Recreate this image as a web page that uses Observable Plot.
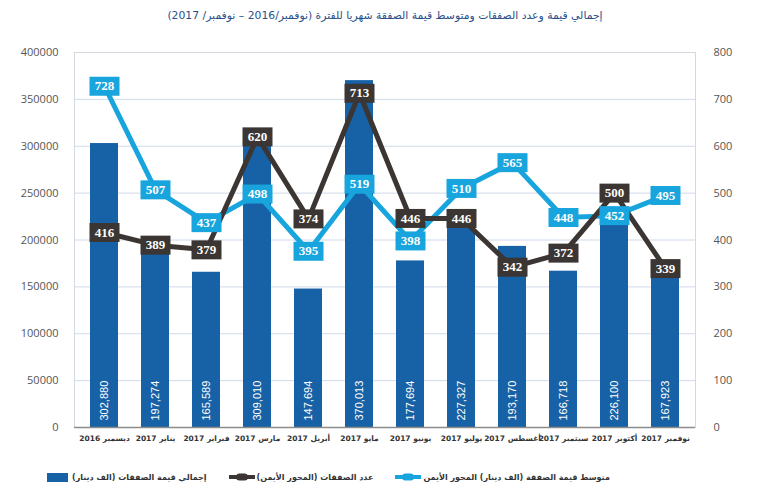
<!DOCTYPE html>
<html>
<head>
<meta charset="utf-8">
<script src="https://cdn.jsdelivr.net/npm/d3@7"></script>
<script src="https://cdn.jsdelivr.net/npm/@observablehq/plot@0.6"></script>
<style>
  html, body { margin: 0; padding: 0; background: #fff; }
  #wrap { width: 770px; height: 499px; position: relative; overflow: hidden; font-family: "DejaVu Sans", sans-serif; }
  #title { height: 30px; line-height: 32px; text-align: center; color: #2a4f88; font-size: 10.8px; }
  #chart { height: 430px; }
  #legend { position: absolute; left: 47px; top: 472px; display: flex; align-items: center; font-size: 8px; font-weight: bold; color: #333; }
  #legend span.t { direction: rtl; unicode-bidi: embed; white-space: nowrap; }
  .sw { display: inline-block; }
</style>
</head>
<body>
<div id="wrap">
  <div id="title" dir="rtl">إجمالي قيمة وعدد الصفقات ومتوسط قيمة الصفقة شهريا للفترة (نوفمبر/2016 – نوفمبر/ 2017)</div>
  <div id="chart"></div>
  <div id="legend"></div>
</div>
<script>
const months = ["ديسمبر 2016","يناير 2017","فبراير 2017","مارس 2017","أبريل 2017","مايو 2017","يونيو 2017","يوليو 2017","أغسطس 2017","سبتمبر 2017","أكتوبر 2017","نوفمبر 2017"];
const totalValue = [302880,197274,165589,309010,147694,370013,177694,227327,193170,166718,226100,167923];
// labels printed in the boxes
const dealCount = [416,389,379,620,374,713,446,446,342,372,500,339];
const avgValue = [728,507,437,498,395,519,398,510,565,448,452,495];
// where the points sit on the right axis
const dealCountPos = [416,389,379,620,445,713,446,446,342,372,500,339];
const avgValuePos = [728,507,437,498,376,519,398,510,565,448,452,495];
const leftTicks = [0,50000,100000,150000,200000,250000,300000,350000,400000];
const rightTicks = [0,100,200,300,400,500,600,700,800];
const legendLabels = ["إجمالي قيمة الصفقات (الف دينار)","عدد الصفقات (المحور الأيمن)","متوسط قيمة الصفقة (الف دينار) المحور الأيمن"];

const BAR = "#1761a6", LIGHT = "#18a5dd", DARK = "#3b3633";
const ratio = 400000 / 800;

const rows = months.map((m, i) => ({m, total: totalValue[i], count: dealCount[i], avg: avgValue[i], countPos: dealCountPos[i], avgPos: avgValuePos[i]}));
const fmt = d3.format(",");
const box = {draw(ctx) { ctx.moveTo(-15, -9.5); ctx.lineTo(15, -9.5); ctx.lineTo(15, 9.5); ctx.lineTo(-15, 9.5); ctx.closePath(); }};

const chart = Plot.plot({
  width: 770,
  height: 430,
  marginLeft: 74,
  marginRight: 75,
  marginTop: 22,
  marginBottom: 33,
  style: {fontFamily: "'Open Sans', sans-serif"},
  x: {domain: months, paddingInner: 0.45, paddingOuter: 0.225, label: null},
  y: {domain: [0, 400000], label: null},
  marks: [
    Plot.gridY(leftTicks, {stroke: "#cfdaea", strokeOpacity: 1}),
    Plot.frame({stroke: "#d4d9e0"}),
    Plot.barY(rows, {x: "m", y: "total", fill: BAR}),
    Plot.text(rows, {x: "m", y: 0, text: d => fmt(d.total), rotate: -90, textAnchor: "start", lineAnchor: "middle", dy: -7, fill: "white", fontSize: 11, fontFamily: "'Liberation Sans', sans-serif"}),
    Plot.ruleY([0], {stroke: "#8c8c8c", strokeWidth: 1.5}),
    Plot.axisY(leftTicks, {anchor: "left", tickSize: 0, tickPadding: 16, tickFormat: d => String(d), fontSize: 11, fill: "#555"}),
    Plot.axisY(rightTicks.map(v => v * ratio), {anchor: "right", tickSize: 0, tickPadding: 18, tickFormat: d => String(d / ratio), fontSize: 11, fill: "#555", textAnchor: "start"}),
    Plot.axisX(months, {anchor: "bottom", tickSize: 0, tickPadding: 8, fontSize: 7.5, fontWeight: "bold", fill: "#333", fontFamily: "'DejaVu Sans', sans-serif"}),
    Plot.line(rows, {x: "m", y: d => d.avgPos * ratio, stroke: LIGHT, strokeWidth: 5}),
    Plot.line(rows, {x: "m", y: d => d.countPos * ratio, stroke: DARK, strokeWidth: 5}),
    Plot.dot(rows, {x: "m", y: d => d.countPos * ratio, symbol: box, fill: DARK, stroke: "none"}),
    Plot.text(rows, {x: "m", y: d => d.countPos * ratio, text: d => String(d.count), fill: "white", fontWeight: "bold", fontSize: 13, fontFamily: "'Liberation Serif', serif"}),
    Plot.dot(rows, {x: "m", y: d => d.avgPos * ratio, symbol: box, fill: LIGHT, stroke: "none"}),
    Plot.text(rows, {x: "m", y: d => d.avgPos * ratio, text: d => String(d.avg), fill: "white", fontWeight: "bold", fontSize: 13, fontFamily: "'Liberation Serif', serif"})
  ]
});
document.getElementById("chart").appendChild(chart);

// legend
const legend = document.getElementById("legend");
function swatchRect(color) {
  const s = document.createElement("span");
  s.className = "sw";
  s.style.cssText = `width:21px;height:9px;background:${color};margin-right:4px;`;
  return s;
}
function swatchLine(color) {
  const ns = "http://www.w3.org/2000/svg";
  const svg = document.createElementNS(ns, "svg");
  svg.setAttribute("width", 26); svg.setAttribute("height", 10);
  svg.style.marginRight = "2px";
  const l = document.createElementNS(ns, "line");
  l.setAttribute("x1", 0); l.setAttribute("x2", 26); l.setAttribute("y1", 5); l.setAttribute("y2", 5);
  l.setAttribute("stroke", color); l.setAttribute("stroke-width", 4);
  const e = document.createElementNS(ns, "rect");
  e.setAttribute("x", 7); e.setAttribute("y", 1.5); e.setAttribute("width", 12); e.setAttribute("height", 7); e.setAttribute("rx", 3.5);
  e.setAttribute("fill", color);
  svg.appendChild(l); svg.appendChild(e);
  return svg;
}
const swatches = [swatchRect(BAR), swatchLine(DARK), swatchLine(LIGHT)];
legendLabels.forEach((lab, i) => {
  legend.appendChild(swatches[i]);
  const t = document.createElement("span");
  t.className = "t";
  t.textContent = lab;
  t.style.marginRight = i < 2 ? "22px" : "0";
  legend.appendChild(t);
});
</script>
</body>
</html>
